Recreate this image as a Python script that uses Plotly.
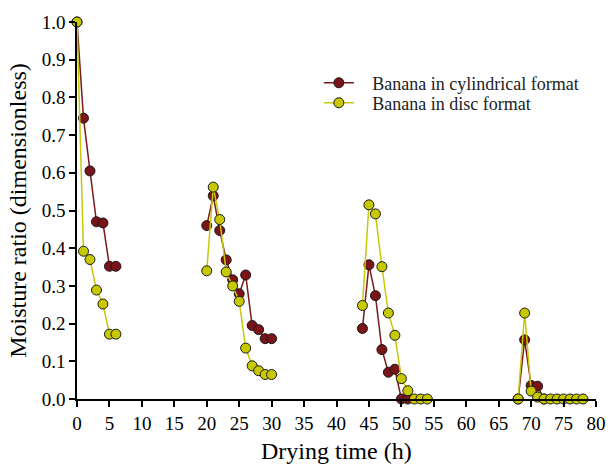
import plotly.graph_objects as go

# Cylindrical format (None = gap between drying stages)
t_cyl = [0, 1, 2, 3, 4, 5, 6, None,
         20, 21, 22, 23, 24, 25, 26, 27, 28, 29, 30, None,
         44, 45, 46, 47, 48, 49, 50, 51, None,
         68, 69, 70, 71, 72]
mr_cyl = [1.0, 0.745, 0.605, 0.470, 0.467, 0.352, 0.352, None,
          0.460, 0.539, 0.447, 0.369, 0.316, 0.279, 0.329, 0.195, 0.184, 0.160, 0.160, None,
          0.187, 0.356, 0.274, 0.131, 0.071, 0.079, 0.0, 0.0, None,
          0.0, 0.157, 0.036, 0.034, 0.0]

# Disc format
t_disc = [0, 1, 2, 3, 4, 5, 6, None,
          20, 21, 22, 23, 24, 25, 26, 27, 28, 29, 30, None,
          44, 45, 46, 47, 48, 49, 50, 51, 52, 53, 54, None,
          68, 69, 70, 71, 72, 73, 74, 75, 76, 77, 78]
mr_disc = [1.0, 0.392, 0.370, 0.289, 0.252, 0.172, 0.172, None,
           0.340, 0.562, 0.476, 0.337, 0.300, 0.259, 0.135, 0.088, 0.075, 0.065, 0.065, None,
           0.248, 0.515, 0.491, 0.351, 0.228, 0.169, 0.054, 0.022, 0.0, 0.0, 0.0, None,
           0.0, 0.228, 0.021, 0.005, 0.0, 0.0, 0.0, 0.0, 0.0, 0.0, 0.0]

x_ticks = list(range(0, 81, 5))
y_ticks = [i / 10 for i in range(11)]

FONT = "Liberation Serif"
PAD = "\u00a0\u00a0\u00a0"

fig = go.Figure()
fig.add_trace(go.Scatter(
    x=t_cyl, y=mr_cyl, mode="lines+markers", name=PAD + "Banana in cylindrical format",
    line=dict(color="#7a1a1c", width=1.5),
    marker=dict(size=10, color="#7a1418", line=dict(color="#1a1a1a", width=1)),
    connectgaps=False, cliponaxis=False, legend="legend"))
fig.add_trace(go.Scatter(
    x=t_disc, y=mr_disc, mode="lines+markers", name=PAD + "Banana in disc format",
    line=dict(color="#c8c80a", width=1.5),
    marker=dict(size=10, color="#c8c800", line=dict(color="#1a1a1a", width=1)),
    connectgaps=False, cliponaxis=False, legend="legend2"))

leg_common = dict(xanchor="left", yanchor="middle",
                  font=dict(family=FONT, size=18, color="#222"),
                  bgcolor="rgba(0,0,0,0)")

fig.update_layout(
    width=610, height=464,
    margin=dict(l=77, r=14, t=22, b=65, autoexpand=False),
    paper_bgcolor="white", plot_bgcolor="white",
    font=dict(family=FONT, color="black", size=19),
    showlegend=True,
    legend=dict(x=0.466, y=0.838, **leg_common),
    legend2=dict(x=0.466, y=0.785, **leg_common),
    xaxis=dict(range=[0, 80], tickvals=x_ticks, showgrid=False, zeroline=False,
               automargin=False,
               showline=True, linecolor="black", linewidth=1.5,
               ticks="outside", ticklen=6, tickwidth=1.5, tickcolor="black",
               tickfont=dict(family=FONT, size=19)),
    yaxis=dict(range=[0, 1.0], tickvals=y_ticks, tickformat=".1f", showgrid=False, zeroline=False,
               automargin=False,
               showline=True, linecolor="black", linewidth=1.5,
               ticks="outside", ticklen=6, tickwidth=1.5, tickcolor="black",
               tickfont=dict(family=FONT, size=19),
               title=dict(text="Moisture ratio (dimensionless)", font=dict(family=FONT, size=24), standoff=8)),
    annotations=[dict(text="Drying time (h)", xref="paper", yref="paper",
                      x=0.5, y=-0.138, xanchor="center", yanchor="middle",
                      showarrow=False, font=dict(family=FONT, size=24, color="black"))],
)

fig.write_html("out.html")
